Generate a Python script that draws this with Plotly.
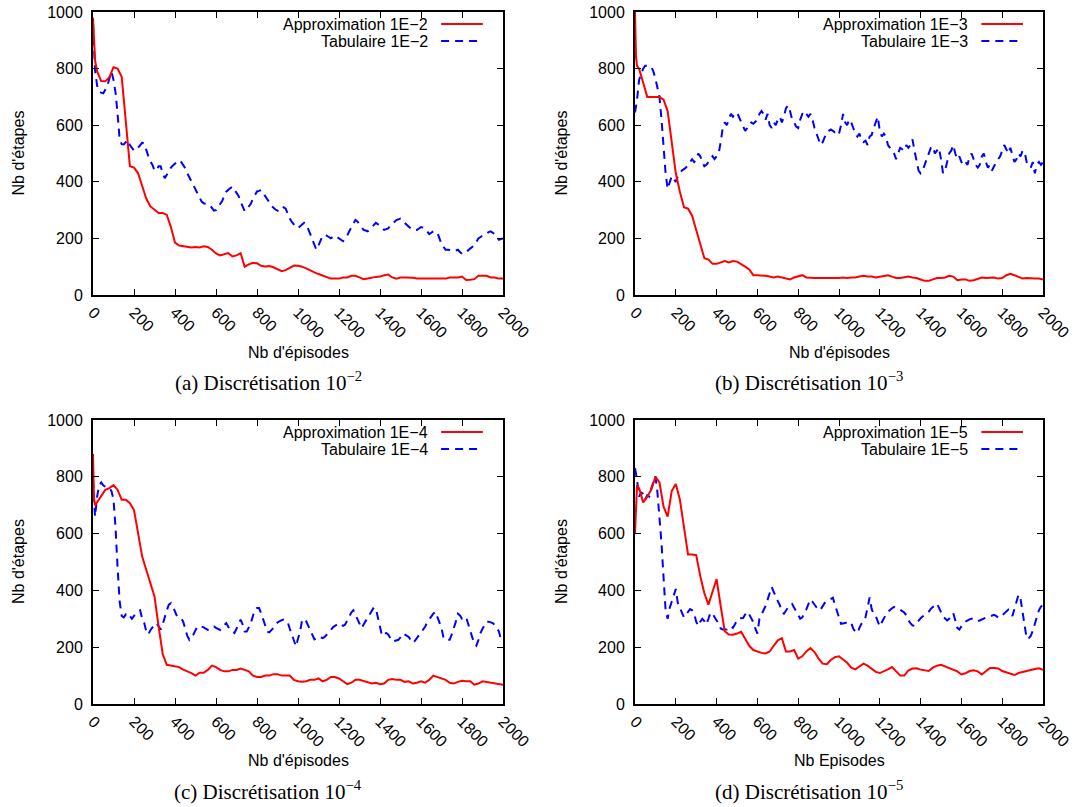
import plotly.graph_objects as go

# ---------------- data ----------------
EPISODES_APPROX = [0, 5, 10] + list(range(20, 2001, 20))
EPISODES_TAB = list(range(0, 2001, 10))
X_TICKS = list(range(0, 2001, 200))
Y_TICKS = list(range(0, 1001, 200))

approx_1e2 = [980, 900, 830,
    790, 756, 755, 770, 805, 800, 771, 600, 455, 450,
    430, 385, 340, 313, 300, 290, 290, 283, 240, 185,
    175, 172, 170, 168, 170, 168, 172, 170, 160, 147,
    140, 145, 148, 136, 140, 148, 100, 108, 114, 112,
    103, 101, 102, 98, 92, 84, 88, 97, 104, 103,
    100, 94, 86, 80, 74, 68, 62, 58, 58, 58,
    62, 62, 68, 68, 62, 56, 58, 62, 64, 65,
    70, 72, 62, 58, 62, 62, 62, 61, 58, 58,
    58, 56, 56, 56, 56, 58, 62, 62, 62, 65,
    53, 54, 56, 68, 68, 68, 62, 62, 58, 58]

tab_1e2 = [960, 795, 740, 718, 715, 713, 725, 740, 765, 789,
    760, 715, 640, 550, 533, 532, 540, 548, 530, 518,
    510, 512, 522, 530, 538, 535, 510, 490, 472, 460,
    440, 440, 455, 455, 430, 413, 425, 440, 450, 458,
    465, 470, 476, 470, 458, 448, 430, 415, 400, 385,
    370, 360, 343, 330, 324, 322, 320, 318, 308, 298,
    300, 312, 325, 332, 350, 365, 372, 378, 383, 372,
    362, 350, 330, 310, 296, 303, 315, 322, 340, 356,
    366, 368, 371, 360, 350, 340, 328, 315, 307, 302,
    298, 295, 302, 310, 305, 285, 270, 258, 248, 240,
    236, 242, 250, 255, 250, 235, 215, 195, 175, 160,
    175, 195, 210, 212, 210, 205, 200, 205, 210, 205,
    200, 195, 190, 200, 210, 225, 240, 255, 265, 260,
    250, 240, 230, 228, 225, 232, 240, 248, 255, 250,
    245, 238, 230, 232, 235, 245, 250, 258, 265, 268,
    270, 262, 255, 248, 240, 235, 230, 230, 230, 235,
    240, 238, 235, 225, 215, 220, 225, 222, 220, 200,
    180, 170, 160, 160, 160, 158, 155, 158, 160, 152,
    145, 148, 150, 158, 165, 170, 175, 188, 200, 205,
    210, 215, 220, 222, 225, 220, 215, 205, 195, 198,
    200]

approx_1e3 = [1000, 840, 810,
    800, 750, 700, 700, 700, 700, 690, 650, 540, 430,
    365, 310, 305, 280, 230, 175, 130, 125, 110, 110,
    115, 120, 115, 120, 118, 110, 100, 90, 70, 70,
    70, 68, 65, 62, 65, 62, 58, 55, 62, 65,
    70, 62, 60, 60, 60, 60, 58, 58, 60, 60,
    62, 60, 62, 62, 65, 68, 65, 65, 62, 65,
    68, 70, 65, 60, 60, 62, 65, 62, 60, 55,
    50, 50, 55, 60, 60, 62, 68, 65, 52, 55,
    55, 50, 52, 58, 62, 60, 60, 62, 58, 60,
    70, 75, 70, 65, 58, 60, 58, 58, 58, 55]

tab_1e3 = [645, 690, 760, 780, 800, 810, 810, 810, 805, 790,
    765, 730, 700, 620, 520, 430, 375, 395, 420, 410,
    400, 420, 430, 440, 445, 450, 460, 470, 480, 470,
    480, 500, 490, 470, 455, 460, 470, 480, 490, 480,
    490, 500, 540, 590, 610, 600, 620, 640, 630, 640,
    645, 630, 610, 600, 580, 590, 605, 610, 605, 612,
    620, 640, 650, 640, 620, 640, 600, 590, 610, 600,
    620, 630, 610, 630, 660, 670, 650, 620, 610, 595,
    590, 620, 640, 650, 640, 630, 640, 620, 590, 570,
    550, 530, 540, 560, 575, 580, 585, 580, 575, 580,
    570, 600, 640, 610, 600, 620, 610, 590, 570, 560,
    570, 550, 540, 545, 530, 560, 565, 590, 610, 630,
    580, 560, 570, 560, 530, 520, 510, 500, 480, 500,
    520, 515, 510, 530, 520, 530, 550, 510, 480, 440,
    430, 440, 460, 480, 500, 520, 525, 500, 510, 520,
    480, 430, 440, 470, 500, 510, 530, 500, 480, 490,
    470, 460, 470, 460, 490, 500, 480, 460, 450, 460,
    490, 500, 470, 450, 460, 440, 455, 470, 480, 490,
    510, 530, 515, 500, 520, 490, 470, 480, 500, 490,
    510, 505, 470, 460, 450, 470, 430, 460, 470, 460,
    470]

approx_1e4 = [880, 720, 700,
    710, 730, 754, 760, 771, 754, 719, 719, 707, 683,
    601, 519, 472, 426, 379, 273, 176, 138, 135, 132,
    130, 121, 115, 109, 100, 110, 110, 120, 135, 130,
    120, 115, 115, 120, 120, 125, 120, 115, 100, 95,
    95, 100, 100, 105, 105, 100, 100, 100, 85, 80,
    78, 80, 85, 85, 90, 80, 85, 95, 95, 90,
    80, 70, 75, 85, 85, 80, 75, 72, 75, 70,
    72, 85, 88, 85, 85, 78, 80, 72, 75, 80,
    75, 85, 100, 95, 90, 85, 75, 72, 78, 82,
    80, 80, 68, 72, 80, 78, 75, 72, 70, 68]

tab_1e4 = [790, 660, 730, 770, 780, 770, 765, 760, 760, 750,
    720, 620, 480, 360, 310, 305, 315, 305, 310, 300,
    310, 320, 325, 330, 300, 285, 255, 245, 260, 270,
    280, 285, 275, 262, 280, 308, 330, 350, 355, 343,
    325, 308, 305, 302, 290, 262, 240, 226, 235, 245,
    260, 273, 275, 273, 270, 265, 261, 265, 270, 273,
    268, 264, 261, 270, 278, 285, 272, 261, 255, 250,
    265, 282, 297, 280, 255, 255, 270, 285, 310, 332,
    338, 338, 320, 297, 275, 255, 252, 260, 267, 276,
    287, 292, 295, 297, 293, 288, 265, 242, 220, 203,
    230, 255, 295, 300, 291, 275, 258, 242, 228, 232,
    238, 235, 232, 236, 243, 250, 260, 270, 276, 282,
    285, 280, 275, 280, 295, 310, 322, 330, 315, 298,
    280, 267, 280, 292, 305, 320, 332, 340, 335, 305,
    270, 240, 245, 250, 245, 232, 220, 222, 224, 226,
    235, 248, 245, 240, 236, 225, 215, 222, 232, 240,
    250, 260, 272, 287, 298, 308, 318, 325, 305, 285,
    268, 232, 226, 226, 226, 245, 265, 290, 318, 312,
    300, 300, 306, 285, 260, 235, 212, 205, 225, 250,
    265, 278, 290, 290, 287, 285, 278, 268, 255, 228,
    238]

approx_1e5 = [600, 720, 770,
    760, 710, 730, 755, 800, 780, 695, 660, 750, 775,
    720, 630, 526, 526, 524, 450, 390, 350, 395, 440,
    345, 256, 245, 244, 248, 254, 230, 205, 190, 185,
    180, 178, 185, 205, 224, 232, 185, 185, 190, 160,
    168, 185, 197, 183, 160, 142, 140, 155, 165, 168,
    157, 145, 128, 122, 132, 142, 135, 125, 113, 109,
    115, 122, 130, 115, 100, 100, 118, 125, 126, 121,
    118, 116, 128, 135, 138, 132, 126, 122, 115, 104,
    108, 116, 119, 115, 104, 115, 127, 127, 125, 116,
    111, 106, 102, 109, 113, 115, 119, 123, 126, 120]

tab_1e5 = [830, 790, 730, 745, 740, 720, 735, 730, 760, 785,
    802, 745, 665, 565, 445, 330, 300, 338, 360, 385,
    405, 355, 335, 322, 305, 315, 327, 334, 330, 318,
    290, 275, 290, 300, 292, 280, 300, 322, 318, 303,
    294, 284, 266, 262, 262, 262, 272, 272, 268, 282,
    294, 302, 303, 303, 315, 325, 315, 300, 288, 265,
    248, 300, 318, 330, 345, 370, 395, 412, 395, 375,
    362, 348, 325, 318, 330, 340, 350, 352, 340, 328,
    315, 300, 305, 318, 333, 352, 368, 360, 350, 340,
    330, 333, 345, 356, 362, 367, 370, 374, 350, 330,
    305, 282, 283, 285, 288, 290, 285, 265, 255, 250,
    268, 282, 290, 306, 340, 375, 335, 316, 310, 290,
    273, 288, 303, 315, 325, 332, 337, 342, 340, 336,
    332, 328, 322, 312, 295, 285, 277, 275, 285, 296,
    302, 308, 313, 318, 325, 335, 343, 348, 354, 340,
    322, 308, 301, 294, 300, 312, 320, 295, 268, 262,
    272, 285, 290, 295, 298, 300, 302, 298, 293, 294,
    298, 302, 304, 306, 308, 311, 314, 310, 305, 304,
    312, 320, 326, 332, 320, 310, 335, 365, 385, 370,
    320, 280, 230, 232, 240, 258, 285, 312, 330, 343,
    349]

LEGEND_APPROX = ["Approximation 1E\u22122", "Approximation 1E\u22123",
                 "Approximation 1E\u22124", "Approximation 1E\u22125"]
LEGEND_TAB = ["Tabulaire 1E\u22122", "Tabulaire 1E\u22123",
              "Tabulaire 1E\u22124", "Tabulaire 1E\u22125"]
CAPTIONS = ["(a) Discrétisation 10<sup>\u22122</sup>",
            "(b) Discrétisation 10<sup>\u22123</sup>",
            "(c) Discrétisation 10<sup>\u22124</sup>",
            "(d) Discrétisation 10<sup>\u22125</sup>"]
X_TITLES = ["Nb d'épisodes", "Nb d'épisodes", "Nb d'épisodes", "Nb Episodes"]
Y_TITLE = "Nb d'étapes"

APPROX = [approx_1e2, approx_1e3, approx_1e4, approx_1e5]
TAB = [tab_1e2, tab_1e3, tab_1e4, tab_1e5]
for a, t in zip(APPROX, TAB):
    assert len(a) == len(EPISODES_APPROX), len(a)
    assert len(t) == len(EPISODES_TAB), len(t)

# ---------------- layout geometry ----------------
W, H = 1079, 807
SANS = "Liberation Sans"
SERIF = "Liberation Serif"
RED = "#ff0000"
BLUE = "#0000ff"
DASH = "8px,6px"

# plot boxes in pixels: (left, right, top, bottom)
BOXES = [(93, 503, 12, 295), (635, 1043, 12, 295),
         (93, 503, 420, 704), (635, 1043, 420, 704)]
YTITLE_X = [18, 561, 18, 561]
XTITLE_Y = [352, 352, 760, 760]
CAPTION_X = [268, 809, 268, 809]
CAPTION_Y = [381, 381, 790, 790]

fig = go.Figure()
layout = dict(width=W, height=H, margin=dict(l=0, r=0, t=0, b=0, autoexpand=False),
              paper_bgcolor="white", plot_bgcolor="white", template="none",
              showlegend=False, font=dict(family=SANS, size=16, color="black"))
annotations = []
shapes = []

for i in range(4):
    sfx = "" if i == 0 else str(i + 1)
    xa, ya = "x" + sfx, "y" + sfx
    l, r, t, b = BOXES[i]
    xdom = [l / W, r / W]
    ydom = [1 - b / H, 1 - t / H]
    common = dict(showgrid=False, zeroline=False, showline=True, linecolor="black",
                  linewidth=2, mirror="ticks", ticks="inside", ticklen=6, tickwidth=1,
                  tickcolor="black", automargin=False,
                  tickfont=dict(family=SANS, size=16, color="black"))
    layout["xaxis" + sfx] = dict(domain=xdom, anchor=ya, range=[0, 2000],
                                 tickvals=X_TICKS, ticktext=[str(v) for v in X_TICKS],
                                 tickangle=45, **common)
    layout["yaxis" + sfx] = dict(domain=ydom, anchor=xa, range=[0, 1000],
                                 tickvals=Y_TICKS, ticktext=[str(v) for v in Y_TICKS],
                                 ticklabelstandoff=5, **common)

    fig.add_trace(go.Scatter(x=EPISODES_TAB, y=TAB[i], mode="lines", xaxis=xa, yaxis=ya,
                             line=dict(color=BLUE, width=2, dash=DASH), name=LEGEND_TAB[i]))
    fig.add_trace(go.Scatter(x=EPISODES_APPROX, y=APPROX[i], mode="lines", xaxis=xa, yaxis=ya,
                             line=dict(color=RED, width=2), name=LEGEND_APPROX[i]))

    # in-plot key (text on the left, sample on the right, gnuplot style)
    for row, (txt, col, dash) in enumerate([(LEGEND_APPROX[i], RED, "solid"),
                                             (LEGEND_TAB[i], BLUE, DASH)]):
        yk = 1 - (12 + 17 * row) / (b - t)
        annotations.append(dict(text=txt, xref=xa + " domain", yref=ya + " domain",
                                x=0.822, y=yk, xanchor="right", yanchor="middle",
                                showarrow=False, font=dict(family=SANS, size=16)))
        shapes.append(dict(type="line", xref=xa + " domain", yref=ya + " domain",
                           x0=0.849, x1=0.951, y0=yk, y1=yk,
                           line=dict(color=col, width=2, dash=dash)))

    # axis titles
    annotations.append(dict(text=Y_TITLE, xref="paper", yref="paper",
                            x=YTITLE_X[i] / W, y=1 - (t + b) / 2 / H, textangle=-90,
                            xanchor="center", yanchor="middle", showarrow=False,
                            font=dict(family=SANS, size=16)))
    annotations.append(dict(text=X_TITLES[i], xref="paper", yref="paper",
                            x=(l + r) / 2 / W, y=1 - XTITLE_Y[i] / H,
                            xanchor="center", yanchor="middle", showarrow=False,
                            font=dict(family=SANS, size=16)))
    annotations.append(dict(text=CAPTIONS[i], xref="paper", yref="paper",
                            x=CAPTION_X[i] / W, y=1 - CAPTION_Y[i] / H,
                            xanchor="center", yanchor="middle", showarrow=False,
                            font=dict(family=SERIF, size=21)))

layout["annotations"] = annotations
layout["shapes"] = shapes
fig.update_layout(**layout)

PIN_TO_VIEWPORT = (
    "document.documentElement.style.overflow='hidden';"
    "document.body.style.margin='0';"
    "document.body.style.overflow='hidden';"
    "var gd=document.getElementById('{plot_id}');"
    "gd.style.position='fixed';gd.style.left='0px';gd.style.top='0px';"
)
fig.write_html("out.html", config={"displayModeBar": False}, post_script=PIN_TO_VIEWPORT)
